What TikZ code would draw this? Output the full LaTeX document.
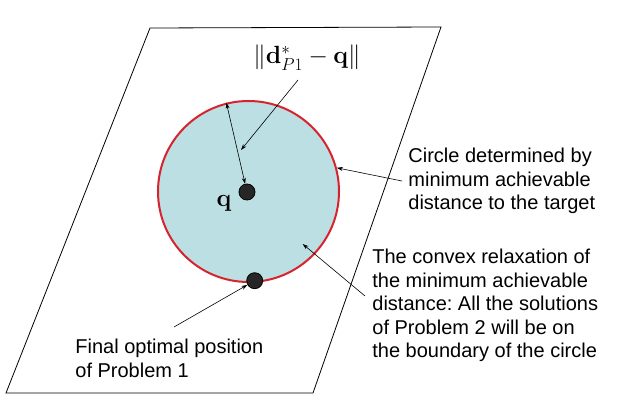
\documentclass[tikz,border=0pt]{standalone}
\usepackage{amsmath}
\usepackage{amssymb}
\usepackage[no-math]{fontspec}
\usepackage{tikz}
\usetikzlibrary{arrows.meta}

\newfontfamily\arialfont{Liberation Sans}
\definecolor{discblue}{RGB}{188,223,227}
\definecolor{discred}{RGB}{215,35,45}
\frenchspacing

\begin{document}
\begin{tikzpicture}[x=1pt, y=-1pt, line width=0.8pt,
  pointer/.style={-{Stealth[length=6pt,width=4pt]}, line width=0.6pt},
  caption/.style={font=\arialfont\fontsize{20}{23.5}\selectfont, align=left, inner sep=0pt},
  dot/.style={circle, fill=black!85, draw=black, minimum size=16pt, inner sep=0pt}]

\useasboundingbox (0,0) rectangle (635,401);

% Plan (parallelogramme)
\draw (150,28) -- (441,27) -- (313,393) -- (6,393) -- cycle;

% Disque de rayon minimal
\node[circle, draw=discred, fill=discblue, line width=2pt, minimum size=181pt, inner sep=0pt] (disk) at (248.5,191.5) {};

% Points q et optimum
\node[dot] (qdot) at (247,192) {};
\node[dot] (opt) at (254.7,280.7) {};
\node[font=\fontsize{26}{30}\selectfont] (qlab) at (224,203) {$\mathbf{q}$};

% Rayon
\draw[{Stealth[length=6pt,width=4pt]}-{Stealth[length=6pt,width=4pt]}, line width=0.6pt] (disk.104) -- (qdot);

% Etiquette du rayon
\node[font=\fontsize{26}{30}\selectfont] (norm) at (307,58) {$\|\mathbf{d}^*_{P1}-\mathbf{q}\|$};
\coordinate (tail1) at (298,80);
\coordinate (tip1) at (241,150);
\draw[pointer] (tail1) -- (tip1);

% Texte a droite - cercle
\node[caption, anchor=west] (desc) at (408,181) {Circle determined by\\minimum achievable\\distance to the target};
\draw[pointer] ([xshift=-6pt]desc.west) -- (disk.15);

% Texte a droite - relaxation
\node[caption, anchor=west] (relax) at (372,305.5) {The convex relaxation of\\the minimum achievable\\distance: All the solutions\\of Problem 2 will be on\\the boundary of the circle};
\coordinate (tip2) at (302.7,244);
\draw[pointer] ([xshift=-7pt,yshift=9.5pt]relax.west) -- (tip2);

% Texte en bas - position finale
\node[caption, anchor=west] (final) at (75,358.5) {Final optimal position\\of Problem 1};
\coordinate (tail3) at (174,327);
\draw[pointer] (tail3) -- (opt);

\end{tikzpicture}
\end{document}
